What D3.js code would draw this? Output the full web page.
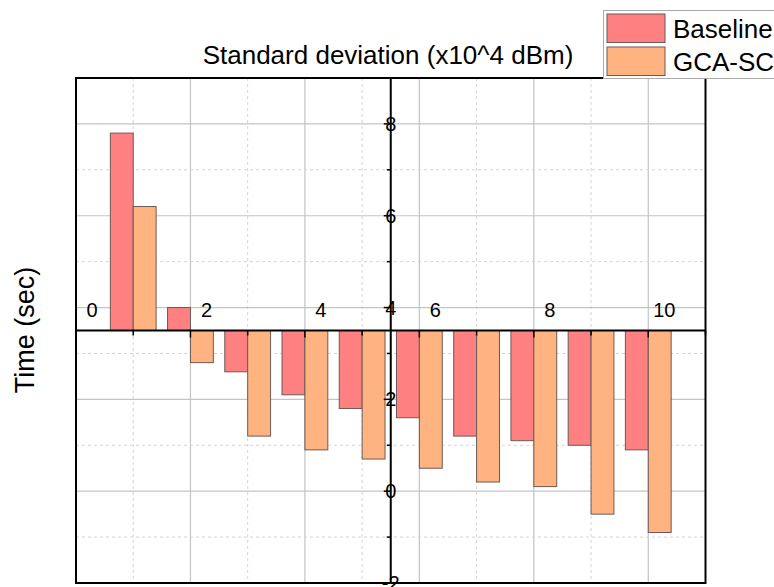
<!DOCTYPE html>
<html>
<head>
<meta charset="utf-8">
<script src="https://cdn.jsdelivr.net/npm/d3@7"></script>
<style>
    body { margin: 0; background: #fff; }
    text { font-family: "Liberation Sans", Arial, sans-serif; fill: #000; }
</style>
</head>
<body>
<script>
const groups = [1, 2, 3, 4, 5, 6, 7, 8, 9, 10];
const baselineValues = [7.8, 4.0, 2.6, 2.1, 1.8, 1.6, 1.2, 1.1, 1.0, 0.9];
const gcaValues = [6.2, 2.8, 1.2, 0.9, 0.7, 0.5, 0.2, 0.1, -0.5, -0.9];
const seriesNames = ["Baseline", "GCA-SC"];
const seriesColors = ["#ff8080", "#ffb380"];
const xTickLabels = [0, 2, 4, 6, 8, 10];
const yTickLabels = [8, 6, 4, 2, 0, -2];

const width = 774;
const height = 587;
const plot = {left: 76, right: 705.5, top: 78, bottom: 583};
const xCross = 5.5;   // where the y axis sits
const yCross = 3.5;   // where the x axis sits (bars grow from here)

const svg = d3.select("body")
    .append("svg")
    .attr("width", width)
    .attr("height", height);

const xScale = d3.scaleLinear().domain([0, 11]).range([plot.left, plot.right]);
const yScale = d3.scaleLinear().domain([-2, 9]).range([plot.bottom, plot.top]);

// grid
const grid = svg.append("g");
const majorX = d3.range(2, 11, 2);
const minorX = d3.range(1, 11, 2);
const majorY = d3.range(-2, 9, 2);
const minorY = d3.range(-1, 9, 2);

grid.selectAll(".vmaj").data(majorX).join("line")
    .attr("x1", d => xScale(d)).attr("x2", d => xScale(d))
    .attr("y1", plot.top).attr("y2", plot.bottom)
    .attr("stroke", "#c4c4c4").attr("stroke-width", 1.2);
grid.selectAll(".vmin").data(minorX).join("line")
    .attr("x1", d => xScale(d)).attr("x2", d => xScale(d))
    .attr("y1", plot.top).attr("y2", plot.bottom)
    .attr("stroke", "#d4d4d4").attr("stroke-width", 1).attr("stroke-dasharray", "3,3");
grid.selectAll(".hmaj").data(majorY).join("line")
    .attr("x1", plot.left).attr("x2", plot.right)
    .attr("y1", d => yScale(d)).attr("y2", d => yScale(d))
    .attr("stroke", "#c4c4c4").attr("stroke-width", 1.2);
grid.selectAll(".hmin").data(minorY).join("line")
    .attr("x1", plot.left).attr("x2", plot.right)
    .attr("y1", d => yScale(d)).attr("y2", d => yScale(d))
    .attr("stroke", "#d4d4d4").attr("stroke-width", 1).attr("stroke-dasharray", "3,3");

// bars
const barW = 0.4;
const series = [baselineValues, gcaValues];
series.forEach((values, si) => {
    svg.append("g")
        .selectAll("rect")
        .data(groups)
        .join("rect")
        .attr("x", (g) => xScale(si === 0 ? g - barW : g))
        .attr("width", xScale(barW) - xScale(0))
        .attr("y", (g, i) => Math.min(yScale(values[i]), yScale(yCross)))
        .attr("height", (g, i) => Math.abs(yScale(values[i]) - yScale(yCross)))
        .attr("fill", seriesColors[si])
        .attr("stroke", "#6b5a55")
        .attr("stroke-width", 1);
});

// frame
svg.append("rect")
    .attr("x", plot.left).attr("y", plot.top)
    .attr("width", plot.right - plot.left).attr("height", plot.bottom - plot.top)
    .attr("fill", "none").attr("stroke", "#000").attr("stroke-width", 2);

// x axis (crosses at y = 3.5), labels sit above and right of the ticks
const xAxisY = yScale(yCross);
const xAxis = svg.append("g");
xAxis.append("line")
    .attr("x1", plot.left).attr("x2", plot.right)
    .attr("y1", xAxisY).attr("y2", xAxisY)
    .attr("stroke", "#000").attr("stroke-width", 2);
xAxis.selectAll(".xt").data(d3.range(0, 12)).join("line")
    .attr("x1", d => xScale(d)).attr("x2", d => xScale(d))
    .attr("y1", xAxisY).attr("y2", d => xAxisY + (d % 2 === 0 ? 7 : 5))
    .attr("stroke", "#000").attr("stroke-width", 1.5);
xAxis.selectAll("text").data(xTickLabels).join("text")
    .attr("x", d => xScale(d) + 16)
    .attr("y", xAxisY - 13.5)
    .attr("text-anchor", "middle")
    .attr("font-size", 20)
    .text(d => d);

// y axis (crosses at x = 5.5)
const yAxisX = xScale(xCross);
const yAxis = svg.append("g");
yAxis.append("line")
    .attr("x1", yAxisX).attr("x2", yAxisX)
    .attr("y1", plot.top).attr("y2", plot.bottom)
    .attr("stroke", "#000").attr("stroke-width", 2);
yAxis.selectAll(".yt").data(d3.range(-2, 10)).join("line")
    .attr("x1", yAxisX).attr("x2", d => yAxisX - (d % 2 === 0 ? 7 : 4))
    .attr("y1", d => yScale(d)).attr("y2", d => yScale(d))
    .attr("stroke", "#000").attr("stroke-width", 1.5);
yAxis.selectAll("text").data(yTickLabels).join("text")
    .attr("x", yAxisX)
    .attr("y", d => yScale(d) + 7)
    .attr("text-anchor", "middle")
    .attr("font-size", 20)
    .text(d => d);

// titles
svg.append("text")
    .attr("x", 388).attr("y", 64)
    .attr("text-anchor", "middle")
    .attr("font-size", 26)
    .text("Standard deviation (x10^4 dBm)");
svg.append("text")
    .attr("transform", "translate(34,330) rotate(-90)")
    .attr("text-anchor", "middle")
    .attr("font-size", 27)
    .text("Time (sec)");

// legend
const legend = svg.append("g");
legend.append("rect")
    .attr("x", 603.5).attr("y", 10.5)
    .attr("width", 200).attr("height", 68)
    .attr("fill", "#fff").attr("stroke", "#aaa").attr("stroke-width", 1);
seriesNames.forEach((name, i) => {
    legend.append("rect")
        .attr("x", 607).attr("y", 14 + i * 33)
        .attr("width", 58).attr("height", 28.5)
        .attr("fill", seriesColors[i])
        .attr("stroke", "#6b5a55").attr("stroke-width", 1);
    legend.append("text")
        .attr("x", 673).attr("y", 38 + i * 33)
        .attr("font-size", 26)
        .text(name);
});
</script>
</body>
</html>
